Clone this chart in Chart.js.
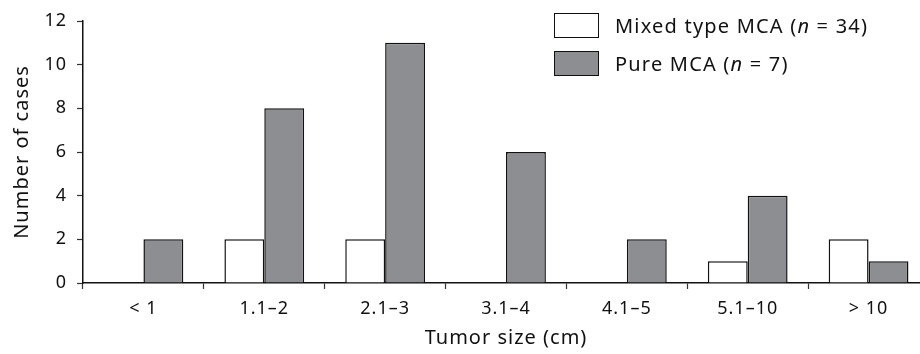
<!DOCTYPE html>
<html>
<head>
<meta charset="utf-8">
<script src="https://cdn.jsdelivr.net/npm/chart.js@4"></script>
<style>
  html, body { margin: 0; padding: 0; background: #fff; overflow: hidden; }
  #wrap { position: relative; width: 920px; height: 354px; overflow: hidden; }
  #box { position: absolute; left: 0; top: 0; width: 930px; height: 354px; }
  #legend { position: absolute; left: 554px; top: 6px; font-family: "Noto Sans", sans-serif; font-size: 20px; letter-spacing: 1.2px; color: #111; }
  .item { display: flex; align-items: center; height: 38px; }
  .swatch { width: 43px; height: 23px; border: 1.5px solid #111; margin-right: 16px; box-sizing: content-box; }
</style>
</head>
<body>
<div id="wrap">
  <div id="box"><canvas id="chart" width="930" height="354"></canvas></div>
  <div id="legend">
    <div class="item"><span class="swatch" style="background:#fff"></span><span>Mixed type MCA (<i>n</i> = 34)</span></div>
    <div class="item"><span class="swatch" style="background:#8d8e92"></span><span>Pure MCA (<i>n</i> = 7)</span></div>
  </div>
</div>
<script>
// tumor size groups
const categories = ["< 1", "1.1–2", "2.1–3", "3.1–4", "4.1–5", "5.1–10", "> 10"];
const mixedCases = [0, 2, 2, 0, 0, 1, 2];
const pureCases = [2, 8, 11, 6, 2, 4, 1];
const yTicks = [0, 2, 4, 6, 8, 10, 12];

const tickFont = { family: "Noto Sans", size: 18 };
const titleFont = { family: "Noto Sans", size: 20 };

// wider letter spacing like the original typesetting
const spacing = {
  id: 'spacing',
  beforeInit(chart) { chart.ctx.letterSpacing = '1px'; },
  beforeDraw(chart) { chart.ctx.letterSpacing = '1px'; }
};

const ctx = document.getElementById("chart").getContext("2d");
new Chart(ctx, {
  type: 'bar',
  data: {
    labels: categories,
    datasets: [
      {
        label: 'Mixed type MCA (n = 34)',
        data: mixedCases,
        backgroundColor: '#ffffff',
        borderColor: '#111111',
        borderWidth: 1.5,
        borderSkipped: 'bottom'
      },
      {
        label: 'Pure MCA (n = 7)',
        data: pureCases,
        backgroundColor: '#8d8e92',
        borderColor: '#111111',
        borderWidth: 1.5,
        borderSkipped: 'bottom'
      }
    ]
  },
  plugins: [spacing],
  options: {
    responsive: false,
    animation: false,
    layout: { padding: { top: 21, right: 1, left: 0, bottom: 0 } },
    datasets: { bar: { categoryPercentage: 0.66, barPercentage: 1 } },
    plugins: { legend: { display: false }, tooltip: { enabled: false } },
    scales: {
      x: {
        grid: { offset: true, drawOnChartArea: false, color: '#333', tickLength: 6, tickWidth: 1.2 },
        border: { color: '#111', width: 1.5 },
        ticks: { color: '#111', font: tickFont, padding: 9, maxRotation: 0 },
        title: { display: true, text: 'Tumor size (cm)', color: '#111', font: titleFont, padding: { top: 4 } },
        afterFit: function(scale) { scale.height = 71; }
      },
      y: {
        min: 0,
        max: 12,
        afterBuildTicks: function(scale) { scale.ticks = yTicks.map(v => ({ value: v })); },
        grid: { drawOnChartArea: false, color: '#333', tickLength: 6, tickWidth: 1.2 },
        border: { color: '#111', width: 1.5 },
        ticks: { color: '#111', font: tickFont, padding: 10 },
        title: { display: true, text: 'Number of cases', color: '#111', font: titleFont, padding: { top: 10, bottom: 4 } },
        afterFit: function(scale) { scale.width = 83; }
      }
    }
  }
});
</script>
</body>
</html>
